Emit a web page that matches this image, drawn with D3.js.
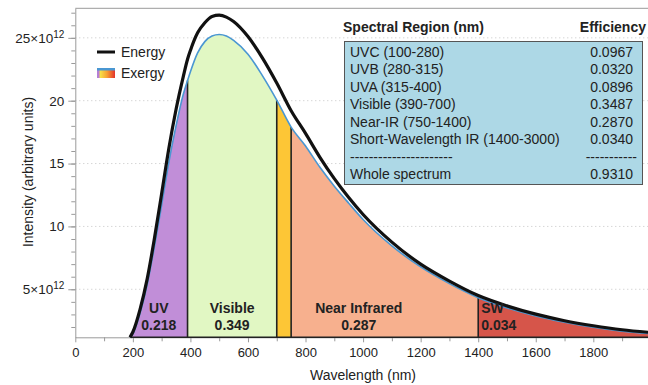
<!DOCTYPE html>
<html>
<head>
<meta charset="utf-8">
<script src="https://cdn.jsdelivr.net/npm/d3@7/dist/d3.min.js"></script>
<style>
    body { margin: 0; background: #fff; }
    svg { display: block; font-family: "Liberation Sans", Arial, sans-serif; }
    .axis path, .axis line { stroke: #9a9a9a; }
    .axis text { font-size: 13px; fill: #222; font-family: "Liberation Sans", Arial, sans-serif; }
</style>
</head>
<body>
<svg id="chart" width="648" height="385"></svg>
<script>

    // values (intensity in units of 10^12)
    var wavelengths = [190, 200, 225, 250, 275, 300, 325, 350, 375, 390, 400, 425, 450, 475, 500, 525, 550,
        600, 650, 700, 750, 800, 850, 900, 950, 1000, 1100, 1200, 1300, 1400, 1500, 1600, 1700, 1800, 1900, 1990];

    var energy = [1.18, 1.6, 3.4, 5.85, 9.05, 12.6, 16.2, 19.3, 21.9, 23.3, 24.0, 25.4, 26.2, 26.7, 26.8, 26.65, 26.3,
        25.1, 23.4, 21.4, 19.2, 17.4, 15.5, 13.8, 12.3, 10.95, 8.75, 7.0, 5.65, 4.5, 3.68, 3.02, 2.5, 2.1, 1.78, 1.58];

    var exergy = [1.18, 1.45, 3.1, 5.4, 8.4, 11.7, 15.1, 18.0, 20.5, 21.6, 22.3, 23.8, 24.7, 25.15, 25.27, 25.15, 24.8,
        23.7, 22.0, 20.05, 17.9, 16.4, 14.7, 13.2, 11.85, 10.55, 8.45, 6.78, 5.45, 4.33, 3.52, 2.88, 2.38, 1.98, 1.67, 1.48];

    var regionNames = ["UV", "Visible", "", "Near Infrared", "SW"];
    var regionEfficiency = ["0.218", "0.349", "", "0.287", "0.034"];
    var regionFrom = [190, 390, 700, 750, 1400];
    var regionTo = [390, 700, 750, 1400, 1990];

    var xTicks = [0, 200, 400, 600, 800, 1000, 1200, 1400, 1600, 1800];
    var xMinorTicks = [100, 300, 500, 700, 900, 1100, 1300, 1500, 1700, 1900];
    var yTicks = [5, 10, 15, 20, 25];
    var yTickLabels = ["5\u00d710", "10", "15", "20", "25\u00d710"];
    var yTickSup = ["12", "", "", "", "12"];

    var tableLabels = ["UVC (100-280)", "UVB (280-315)", "UVA (315-400)", "Visible (390-700)",
        "Near-IR (750-1400)", "Short-Wavelength IR (1400-3000)", "----------------------", "Whole spectrum"];
    var tableValues = ["0.0967", "0.0320", "0.0896", "0.3487", "0.2870", "0.0340", "-----------", "0.9310"];

    // styles
    var regionColors = ["#c18ed8", "#e1f7c3", "#fdc636", "#f7b08e", "#d6554a"];
    var energyColor = "#111",
        exergyColor = "#4a97d2",
        outline = "#222";

    var svg = d3.select("#chart");

    var x = d3.scaleLinear().domain([0, 1990]).range([75.3, 648]),
        y = d3.scaleLinear().domain([1.18, 27.35]).range([337.3, 8.3]);

    var pts = wavelengths.map(function (w, i) {
        return { w: w, e: energy[i], x: exergy[i] };
    });

    // dotted grid
    svg.append("g")
        .selectAll("line")
        .data(yTicks)
        .join("line")
            .attr("x1", x(0))
            .attr("x2", 648)
            .attr("y1", function (d) { return y(d); })
            .attr("y2", function (d) { return y(d); })
            .attr("stroke", "#c4c4c4")
            .attr("stroke-dasharray", "1,3");

    // frame top
    svg.append("line")
        .attr("x1", x(0)).attr("x2", 648)
        .attr("y1", y(27.35)).attr("y2", y(27.35))
        .attr("stroke", "#9a9a9a");

    // axes
    svg.append("g")
        .attr("class", "axis")
        .attr("transform", "translate(0," + y(1.18) + ")")
        .call(d3.axisBottom(x).tickValues(xTicks).tickSize(5).tickSizeOuter(0).tickPadding(5)
            .tickFormat(d3.format("d")));

    svg.append("g")
        .attr("class", "axis")
        .attr("transform", "translate(0," + y(1.18) + ")")
        .call(d3.axisBottom(x).tickValues(xMinorTicks).tickSize(4).tickSizeOuter(0).tickFormat(""))
        .select(".domain").remove();

    var yAxis = svg.append("g")
        .attr("class", "axis")
        .attr("transform", "translate(" + x(0) + ",0)")
        .call(d3.axisLeft(y).tickValues(yTicks).tickSize(7).tickSizeOuter(0).tickPadding(4).tickFormat(""));

    yAxis.selectAll(".tick text").each(function (d, i) {
        var t = d3.select(this).style("font-size", "13.5px").text(yTickLabels[i]);
        if (yTickSup[i]) {
            t.append("tspan")
                .attr("dy", "-0.5em")
                .attr("font-size", "10px")
                .text(yTickSup[i]);
        }
    });

    svg.append("g")
        .attr("class", "axis")
        .attr("transform", "translate(" + x(0) + ",0)")
        .call(d3.axisLeft(y).tickValues(d3.range(2, 28)).tickSize(4).tickSizeOuter(0).tickFormat(""))
        .select(".domain").remove();

    // axis titles
    svg.append("text")
        .attr("x", 363).attr("y", 380)
        .attr("text-anchor", "middle")
        .attr("font-size", "14px")
        .attr("fill", "#222")
        .text("Wavelength (nm)");

    svg.append("text")
        .attr("transform", "translate(33,172) rotate(-90)")
        .attr("text-anchor", "middle")
        .attr("font-size", "14px")
        .attr("fill", "#222")
        .text("Intensity (arbitrary units)");

    // filled exergy regions, clipped from the one full area
    var area = d3.area()
        .x(function (d) { return x(d.w); })
        .y0(y(1.18))
        .y1(function (d) { return y(d.x); })
        .curve(d3.curveMonotoneX);

    var defs = svg.append("defs");

    regionFrom.forEach(function (from, i) {
        defs.append("clipPath")
            .attr("id", "clip" + i)
            .append("rect")
                .attr("x", x(from))
                .attr("width", x(regionTo[i]) - x(from))
                .attr("y", 0)
                .attr("height", 385);

        svg.append("path")
            .datum(pts)
            .attr("d", area)
            .attr("fill", regionColors[i])
            .attr("clip-path", "url(#clip" + i + ")");
    });

    // dividers between regions
    [390, 700, 750, 1400].forEach(function (w) {
        var k = wavelengths.indexOf(w);
        svg.append("line")
            .attr("x1", x(w)).attr("x2", x(w))
            .attr("y1", y(1.18)).attr("y2", y(exergy[k]))
            .attr("stroke", outline)
            .attr("stroke-width", 1.6);
    });

    svg.append("line")
        .attr("x1", x(190)).attr("x2", x(1990))
        .attr("y1", y(1.18)).attr("y2", y(1.18))
        .attr("stroke", outline)
        .attr("stroke-width", 1.6);

    // curves
    var lineEx = d3.line()
        .x(function (d) { return x(d.w); })
        .y(function (d) { return y(d.x); })
        .curve(d3.curveMonotoneX);

    var lineEn = d3.line()
        .x(function (d) { return x(d.w); })
        .y(function (d) { return y(d.e); })
        .curve(d3.curveMonotoneX);

    svg.append("path")
        .datum(pts)
        .attr("d", lineEx)
        .attr("fill", "none")
        .attr("stroke", exergyColor)
        .attr("stroke-width", 1.6);

    svg.append("path")
        .datum(pts)
        .attr("d", lineEn)
        .attr("fill", "none")
        .attr("stroke", energyColor)
        .attr("stroke-width", 3.2);

    // region labels
    var labelAt = [290, 545, 0, 985, 1400];
    regionNames.forEach(function (name, i) {
        if (!name) return;
        var left = (name === "SW"),
            lx = left ? x(labelAt[i]) + 3 : x(labelAt[i]);
        var g = svg.append("g")
            .attr("font-size", "14px")
            .attr("font-weight", "bold")
            .attr("fill", "#222")
            .attr("text-anchor", left ? "start" : "middle");
        g.append("text").attr("x", lx).attr("y", 313).text(name);
        g.append("text").attr("x", lx).attr("y", 330).text(regionEfficiency[i]);
    });

    // legend
    var grad = defs.append("linearGradient").attr("id", "exgrad");
    [["0%", "#b67fd6"], ["12%", "#b67fd6"], ["16%", "#f7e448"], ["55%", "#f8a232"], ["100%", "#e3322b"]]
        .forEach(function (s) {
            grad.append("stop").attr("offset", s[0]).attr("stop-color", s[1]);
        });

    svg.append("line")
        .attr("x1", 97).attr("x2", 115)
        .attr("y1", 52).attr("y2", 52)
        .attr("stroke", energyColor)
        .attr("stroke-width", 3);

    svg.append("rect")
        .attr("x", 97).attr("y", 68)
        .attr("width", 18).attr("height", 10)
        .attr("fill", "url(#exgrad)");

    svg.append("rect")
        .attr("x", 97).attr("y", 68)
        .attr("width", 18).attr("height", 2.5)
        .attr("fill", exergyColor);

    svg.append("text").attr("x", 121).attr("y", 57).attr("font-size", "14px").attr("fill", "#222").text("Energy");
    svg.append("text").attr("x", 121).attr("y", 78).attr("font-size", "14px").attr("fill", "#222").text("Exergy");

    // efficiency table
    svg.append("rect")
        .attr("x", 344.5).attr("y", 41.5)
        .attr("width", 298).attr("height", 143)
        .attr("fill", "#add8e6")
        .attr("stroke", "#555");

    svg.append("text")
        .attr("x", 343).attr("y", 31.5)
        .attr("font-size", "14px").attr("font-weight", "bold").attr("fill", "#222")
        .text("Spectral Region (nm)");

    svg.append("text")
        .attr("x", 646).attr("y", 31.5)
        .attr("text-anchor", "end")
        .attr("font-size", "14px").attr("font-weight", "bold").attr("fill", "#222")
        .text("Efficiency");

    tableLabels.forEach(function (lab, i) {
        var ty = 56.5 + i * 17.5;
        svg.append("text")
            .attr("x", 350).attr("y", ty)
            .attr("font-size", "14px").attr("fill", "#222")
            .text(lab);
        svg.append("text")
            .attr("x", i === 6 ? 637 : 633).attr("y", ty)
            .attr("text-anchor", "end")
            .attr("font-size", "14px").attr("fill", "#222")
            .text(tableValues[i]);
    });

</script>
</body>
</html>
